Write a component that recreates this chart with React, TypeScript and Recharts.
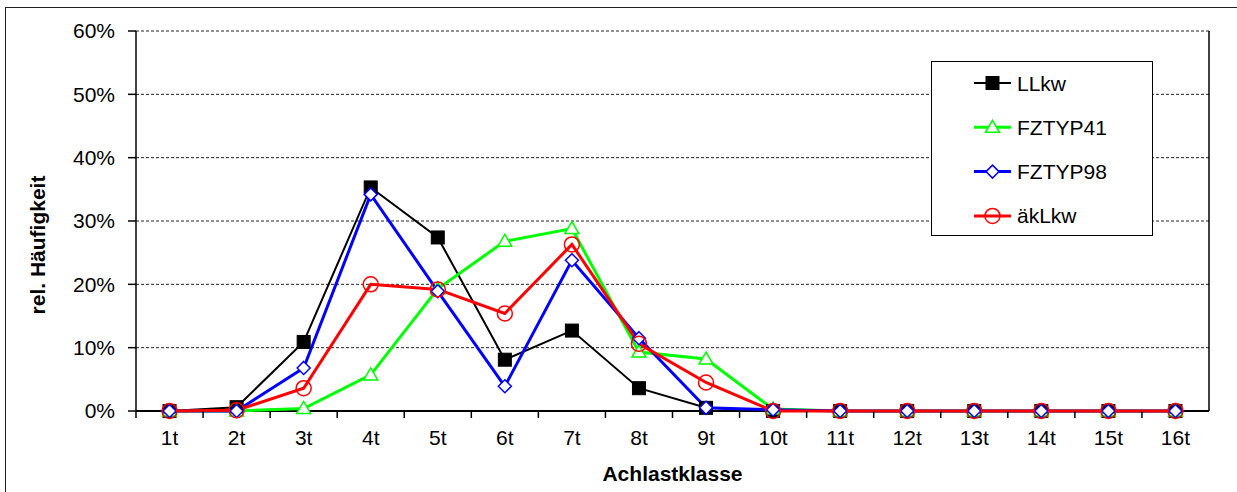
import { LineChart, Line, XAxis, YAxis, CartesianGrid, Legend, ReferenceLine } from "recharts";

// Achslastklassen
const categories = ["1t", "2t", "3t", "4t", "5t", "6t", "7t", "8t", "9t", "10t", "11t", "12t", "13t", "14t", "15t", "16t"];

// relative Häufigkeit in %
const llkw = [0, 0.6, 10.9, 35.3, 27.4, 8.1, 12.7, 3.6, 0.5, 0, 0, 0, 0, 0, 0, 0];
const fztyp41 = [0, 0, 0.4, 5.7, 19.3, 26.8, 28.8, 9.3, 8.2, 0.3, 0, 0, 0, 0, 0, 0];
const fztyp98 = [0, 0, 6.8, 34.2, 18.9, 3.9, 23.8, 11.5, 0.5, 0.2, 0, 0, 0, 0, 0, 0];
const aklkw = [0, 0.1, 3.6, 20.0, 19.2, 15.4, 26.3, 10.6, 4.5, 0, 0, 0, 0, 0, 0, 0];

const yTicks = [0, 10, 20, 30, 40, 50, 60];

const FONT = "'Liberation Sans', Arial, sans-serif";
const W = 1237;
const H = 492;
const PLOT_L = 136;
const PLOT_R = 1209;
const HALF_BAND = (PLOT_R - PLOT_L) / categories.length / 2;

const data = categories.map((c, i) => ({
    x: i + 1,
    LLkw: llkw[i],
    FZTYP41: fztyp41[i],
    FZTYP98: fztyp98[i],
    "äkLkw": aklkw[i],
}));

// marker shapes
const Square = ({ cx, cy }: any) => <rect x={cx - 6.5} y={cy - 6.5} width={13} height={13} fill="#000" stroke="#000" />;
const Triangle = ({ cx, cy }: any) => (
    <polygon points={`${cx},${cy - 7} ${cx - 7},${cy + 5} ${cx + 7},${cy + 5}`} fill="#fff" stroke="#00ff00" strokeWidth={1.5} />
);
const Diamond = ({ cx, cy }: any) => (
    <polygon points={`${cx},${cy - 6.5} ${cx + 6.5},${cy} ${cx},${cy + 6.5} ${cx - 6.5},${cy}`} fill="#fff" stroke="#0000ff" strokeWidth={1.5} />
);
const Circle = ({ cx, cy }: any) => <circle cx={cx} cy={cy} r={7.5} fill="none" stroke="#ff0000" strokeWidth={1.5} />;

const series = [
    { key: "LLkw", color: "#000000", width: 2, Marker: Square },
    { key: "FZTYP41", color: "#00ff00", width: 3, Marker: Triangle },
    { key: "FZTYP98", color: "#0000ff", width: 3, Marker: Diamond },
    { key: "äkLkw", color: "#ff0000", width: 3, Marker: Circle },
];

const XTick = ({ x, y, payload }: any) => (
    <g>
        <line x1={x - HALF_BAND} x2={x - HALF_BAND} y1={y - 7} y2={y} stroke="#000" strokeWidth={1.5} />
        <text x={x} y={y + 27} textAnchor="middle" fontSize={21} fontFamily={FONT} fill="#000">
            {categories[payload.value - 1]}
        </text>
    </g>
);

const renderLegend = () => (
    <svg width={222} height={175} style={{ display: "block" }}>
        <rect x={0.5} y={0.5} width={221} height={174} fill="#fff" stroke="#000" strokeWidth={1} />
        {series.map((s, i) => {
            const cy = 22 + i * 44.3;
            const M = s.Marker;
            return (
                <g key={s.key}>
                    <line x1={43} x2={80} y1={cy} y2={cy} stroke={s.color} strokeWidth={s.width} />
                    <M cx={61.5} cy={cy} />
                    <text x={86} y={cy + 7.5} fontSize={21} fontFamily={FONT} fill="#000">
                        {s.key}
                    </text>
                </g>
            );
        })}
    </svg>
);

export default function App() {
    return (
        <div style={{ position: "absolute", left: 0, top: 0, width: W, height: H, overflow: "hidden", background: "#fff" }}>
            <div style={{ position: "absolute", left: 5, top: 7, width: 1240, height: 490, border: "1px solid #222" }} />
            <div style={{ position: "absolute", left: 0, top: 0 }}>
                <LineChart width={W} height={H} data={data} margin={{ top: 31, right: W - PLOT_R, left: 0, bottom: 0 }}>
                    <CartesianGrid horizontal vertical={false} stroke="#222" strokeDasharray="3 2" />
                    <XAxis
                        dataKey="x"
                        type="number"
                        domain={[0.5, categories.length + 0.5]}
                        ticks={categories.map((_, i) => i + 1)}
                        interval={0}
                        height={81}
                        tickSize={7}
                        tickMargin={0}
                        tickLine={false}
                        tick={<XTick />}
                        axisLine={false}
                        label={{
                            content: ({ viewBox }: any) => (
                                <text x={viewBox.x + viewBox.width / 2} y={481} textAnchor="middle" fontSize={21} fontWeight="bold" fontFamily={FONT} fill="#000">
                                    Achlastklasse
                                </text>
                            ),
                        }}
                    />
                    <YAxis
                        type="number"
                        domain={[0, 60]}
                        ticks={yTicks}
                        width={PLOT_L}
                        tickSize={8}
                        tickMargin={13}
                        tickFormatter={(v: number) => `${v}%`}
                        tick={{ fontSize: 21, fontFamily: FONT, fill: "#000" }}
                        tickLine={{ stroke: "#000", strokeWidth: 1.5 }}
                        axisLine={{ stroke: "#000", strokeWidth: 1.5 }}
                        label={{
                            content: () => (
                                <text x={45} y={245} transform="rotate(-90 45 245)" textAnchor="middle" fontSize={21} fontWeight="bold" fontFamily={FONT} fill="#000">
                                    rel. Häufigkeit
                                </text>
                            ),
                        }}
                    />
                    <ReferenceLine y={0} stroke="#000" strokeWidth={2} />
                    <ReferenceLine x={categories.length + 0.5} stroke="#000" strokeWidth={1.5} />
                    <Legend
                        layout="vertical"
                        align="center"
                        verticalAlign="middle"
                        content={renderLegend}
                        wrapperStyle={{ left: 931, top: 61, width: 222, height: 175 }}
                    />
                    {series.map((s) => (
                        <Line
                            key={s.key}
                            dataKey={s.key}
                            stroke={s.color}
                            strokeWidth={s.width}
                            isAnimationActive={false}
                            dot={(p: any) => <s.Marker key={`${s.key}-${p.index}`} cx={p.cx} cy={p.cy} />}
                        />
                    ))}
                </LineChart>
            </div>
        </div>
    );
}
